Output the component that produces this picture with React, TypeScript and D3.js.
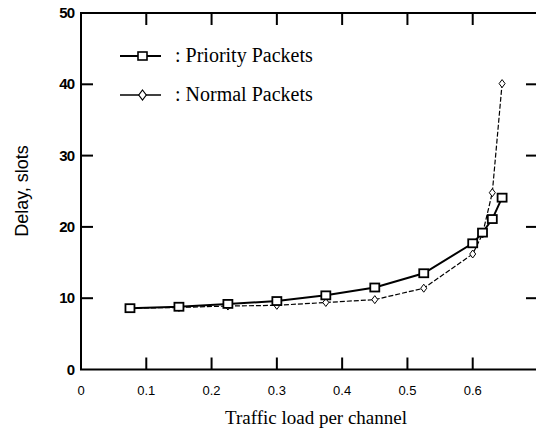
import * as d3 from "d3";
import { useEffect, useRef } from "react";

const loads = [0.075, 0.15, 0.225, 0.3, 0.375, 0.45, 0.525, 0.6, 0.615, 0.63, 0.645];
const priorityDelay = [8.6, 8.8, 9.2, 9.6, 10.4, 11.5, 13.5, 17.7, 19.2, 21.1, 24.1];
const normalDelay = [8.6, 8.7, 8.9, 9.0, 9.4, 9.8, 11.4, 16.2, 19.0, 24.8, 40.1];
const xTicks = [0, 0.1, 0.2, 0.3, 0.4, 0.5, 0.6];
const yTicks = [0, 10, 20, 30, 40, 50];
const legendLabels = [": Priority Packets", ": Normal Packets"];

export default function App() {
  const ref = useRef<SVGSVGElement>(null);
  const width = 536;
  const height = 430;
  const left = 81;
  const right = 538;
  const top = 13;
  const bottom = 369.5;

  useEffect(() => {
    const svg = d3.select(ref.current);
    svg.selectAll("*").remove();

    const x = d3.scaleLinear().domain([0, 0.7]).range([left, right]);
    const y = d3.scaleLinear().domain([0, 50]).range([bottom, top]);

    // frame (right side falls just outside the picture)
    svg
      .append("path")
      .attr("d", `M${right},${top}H${left}V${bottom}H${right}`)
      .attr("fill", "none")
      .attr("stroke", "#000")
      .attr("stroke-width", 2);

    const tickLen = 12;
    const tickX = xTicks.filter((d) => d > 0);
    const g = svg.append("g").attr("stroke", "#000").attr("stroke-width", 2);
    g.selectAll(".tb")
      .data(tickX)
      .join("line")
      .attr("x1", (d) => x(d))
      .attr("x2", (d) => x(d))
      .attr("y1", bottom)
      .attr("y2", bottom - tickLen);
    g.selectAll(".tt")
      .data(tickX)
      .join("line")
      .attr("x1", (d) => x(d))
      .attr("x2", (d) => x(d))
      .attr("y1", top)
      .attr("y2", top + tickLen);
    const tickY = yTicks.filter((d) => d > 0 && d < 50);
    g.selectAll(".tl")
      .data(tickY)
      .join("line")
      .attr("x1", left)
      .attr("x2", left + tickLen)
      .attr("y1", (d) => y(d))
      .attr("y2", (d) => y(d));
    g.selectAll(".tr")
      .data(tickY)
      .join("line")
      .attr("x1", right)
      .attr("x2", right - tickLen)
      .attr("y1", (d) => y(d))
      .attr("y2", (d) => y(d));

    // tick labels
    svg
      .append("g")
      .attr("font-family", "'Liberation Sans', Arial, sans-serif")
      .attr("font-size", 13)
      .attr("text-anchor", "middle")
      .selectAll("text")
      .data(xTicks)
      .join("text")
      .attr("x", (d) => x(d))
      .attr("y", bottom + 25)
      .text((d) => (d === 0 ? "0" : d3.format(".1f")(d)));

    svg
      .append("g")
      .attr("font-family", "'Liberation Sans Narrow', 'Liberation Sans', Arial, sans-serif")
      .attr("font-size", 15)
      .attr("font-weight", "bold")
      .attr("text-anchor", "end")
      .selectAll("text")
      .data(yTicks)
      .join("text")
      .attr("x", left - 7)
      .attr("y", (d) => y(d) + 5)
      .attr("letter-spacing", -1)
      .text((d) => d);

    // axis titles
    svg
      .append("text")
      .attr("transform", `translate(28,191) rotate(-90)`)
      .attr("text-anchor", "middle")
      .attr("font-family", "'Liberation Sans', Arial, sans-serif")
      .attr("font-size", 18)
      .text("Delay, slots");

    svg
      .append("text")
      .attr("x", 316)
      .attr("y", 424)
      .attr("text-anchor", "middle")
      .attr("font-family", "'Liberation Serif', 'Times New Roman', serif")
      .attr("font-size", 19)
      .text("Traffic load per channel");

    const line = d3
      .line<[number, number]>()
      .x((d) => x(d[0]))
      .y((d) => y(d[1]));

    const normal = loads.map((l, i) => [l, normalDelay[i]] as [number, number]);
    const priority = loads.map((l, i) => [l, priorityDelay[i]] as [number, number]);

    svg
      .append("path")
      .attr("d", line(normal))
      .attr("fill", "none")
      .attr("stroke", "#000")
      .attr("stroke-width", 1.2)
      .attr("stroke-dasharray", "5,2");

    const diamond = (cx: number, cy: number, r: number) =>
      `M${cx},${cy - r}L${cx + r * 0.75},${cy}L${cx},${cy + r}L${cx - r * 0.75},${cy}Z`;

    svg
      .append("g")
      .selectAll("path")
      .data(normal)
      .join("path")
      .attr("d", (d) => diamond(x(d[0]), y(d[1]), 4))
      .attr("fill", "#fff")
      .attr("stroke", "#000")
      .attr("stroke-width", 1);

    svg
      .append("path")
      .attr("d", line(priority))
      .attr("fill", "none")
      .attr("stroke", "#000")
      .attr("stroke-width", 2);

    svg
      .append("g")
      .selectAll("rect")
      .data(priority)
      .join("rect")
      .attr("x", (d) => x(d[0]) - 4.5)
      .attr("y", (d) => y(d[1]) - 4)
      .attr("width", 9)
      .attr("height", 8)
      .attr("fill", "#fff")
      .attr("stroke", "#000")
      .attr("stroke-width", 1.8);

    // legend
    const lg = svg.append("g");
    lg.append("line")
      .attr("x1", 120)
      .attr("x2", 161)
      .attr("y1", 56)
      .attr("y2", 56)
      .attr("stroke", "#000")
      .attr("stroke-width", 1.8);
    lg.append("rect")
      .attr("x", 138)
      .attr("y", 52)
      .attr("width", 9)
      .attr("height", 8)
      .attr("fill", "#fff")
      .attr("stroke", "#000")
      .attr("stroke-width", 1.6);
    lg.append("line")
      .attr("x1", 120)
      .attr("x2", 161)
      .attr("y1", 95)
      .attr("y2", 95)
      .attr("stroke", "#000")
      .attr("stroke-width", 1.4);
    lg.append("path")
      .attr("d", diamond(142.5, 95, 5))
      .attr("fill", "#fff")
      .attr("stroke", "#000")
      .attr("stroke-width", 1.2);
    lg.selectAll("text")
      .data(legendLabels)
      .join("text")
      .attr("x", 175)
      .attr("y", (_, i) => (i === 0 ? 62 : 101))
      .attr("font-family", "'Liberation Serif', 'Times New Roman', serif")
      .attr("font-size", 20)
      .text((d) => d);
  }, []);

  return (
    <svg
      ref={ref}
      width={width}
      height={height}
      style={{ position: "absolute", left: 0, top: 0, background: "#fff" }}
    />
  );
}
